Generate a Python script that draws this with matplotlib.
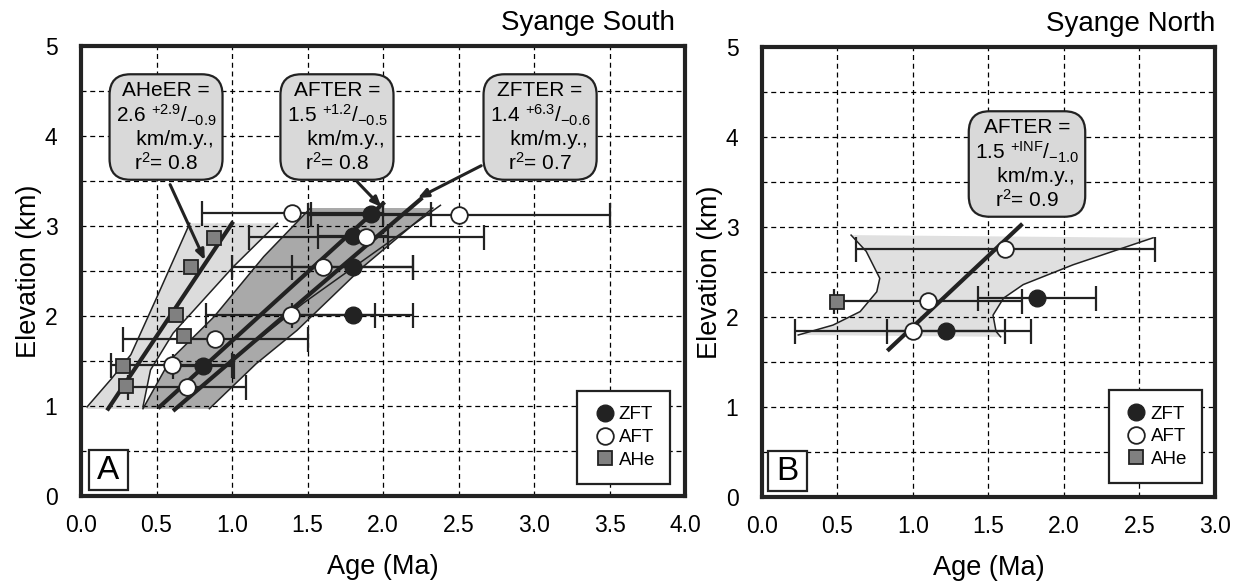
import matplotlib
matplotlib.use("Agg")
from matplotlib import pyplot as plt
from matplotlib.lines import Line2D
from matplotlib.patches import Rectangle
import numpy as np

plt.rcParams['font.family'] = ['Liberation Sans', 'DejaVu Sans']
plt.rcParams['mathtext.fontset'] = 'custom'
plt.rcParams['mathtext.rm'] = 'Liberation Sans'
plt.rcParams['mathtext.it'] = 'Liberation Sans'

# ---- Syange South (A) ----
zft_age = [1.92, 1.80, 1.80, 1.80, 0.81]
zft_elev = [3.13, 2.89, 2.54, 2.01, 1.44]
zft_err = [0.40, 0.23, 0.40, 0.40, 0.20]

aft_age = [1.40, 2.50, 1.89, 1.60, 1.39, 0.89, 0.60, 0.70]
aft_elev = [3.14, 3.12, 2.88, 2.54, 2.01, 1.74, 1.45, 1.21]
aft_err = [0.60, 1.00, 0.78, 0.60, 0.56, 0.61, 0.40, 0.39]

ahe_age = [0.88, 0.73, 0.63, 0.68, 0.28, 0.30]
ahe_elev = [2.87, 2.54, 2.01, 1.78, 1.44, 1.22]

# regression lines (end points)
ahe_fit_age, ahe_fit_elev = [0.18, 1.00], [0.97, 3.03]
aft_fit_age, aft_fit_elev = [0.52, 2.00], [0.99, 3.25]
zft_fit_age, zft_fit_elev = [0.62, 2.25], [0.96, 3.30]

# confidence envelopes
ahe_lo_age = [0.04, 0.20, 0.33, 0.50, 0.72]
ahe_lo_elev = [0.99, 1.30, 1.57, 2.20, 3.03]
ahe_hi_age = [0.41, 0.46, 0.61, 0.81, 1.01, 1.30]
ahe_hi_elev = [0.99, 1.40, 1.81, 2.18, 2.55, 3.03]

fta_lo_age = [0.41, 0.59, 0.88, 1.21, 1.52]
fta_lo_elev = [0.97, 1.51, 1.99, 2.66, 3.20]
fta_hi_age = [0.85, 1.16, 1.43, 1.87, 2.33]
fta_hi_elev = [0.97, 1.47, 1.84, 2.55, 3.20]
fta_mid_age = [1.16, 1.47, 2.38]
fta_mid_elev = [1.72, 2.14, 3.23]

# ---- Syange North (B) ----
n_zft_age = [1.82, 1.22]
n_zft_elev = [2.21, 1.84]
n_zft_err = [0.39, 0.39]
n_aft_age = [1.61, 1.10, 1.00]
n_aft_elev = [2.76, 2.18, 1.84]
n_aft_err = [0.99, 0.62, 0.78]
n_ahe_age = [0.50]
n_ahe_elev = [2.17]
n_fit_age, n_fit_elev = [0.84, 1.715], [1.64, 3.02]
n_left_age = [0.59, 0.69, 0.78, 0.76, 0.65, 0.47, 0.24]
n_left_elev = [2.91, 2.73, 2.43, 2.28, 2.06, 1.91, 1.80]
n_right_age = [1.58, 1.55, 1.53, 1.60, 1.73, 2.06, 2.59]
n_right_elev = [1.78, 1.84, 2.02, 2.21, 2.36, 2.58, 2.88]

DARK = '#222222'
LIGHT = '#dcdcdc'
MID = '#a9a9a9'
BOXC = '#d9d9d9'

fig = plt.figure(figsize=(12.37, 5.84), dpi=100)
axA = fig.add_axes([0.0655, 0.1507, 0.4883, 0.7705])
axB = fig.add_axes([0.616, 0.1490, 0.3662, 0.7705])


def style(ax, xmax):
    ax.set_xlim(0, xmax)
    ax.set_ylim(0, 5)
    xt = np.arange(0, xmax + 0.01, 0.5)
    ax.set_xticks(xt)
    ax.set_xticklabels(['%.1f' % v for v in xt])
    yt = np.arange(0, 5.01, 0.5)
    ax.set_yticks(yt)
    ax.set_yticklabels([str(int(v)) if v == int(v) else '' for v in yt])
    ax.grid(True, color='black', linestyle=(0, (4, 3)), linewidth=0.9)
    ax.set_axisbelow(True)
    ax.tick_params(axis='both', length=0, labelsize=16.5)
    ax.tick_params(axis='x', pad=13)
    ax.tick_params(axis='y', pad=17)
    for s in ax.spines.values():
        s.set_linewidth(3)
        s.set_color(DARK)
    ax.set_xlabel('Age (Ma)', fontsize=19.5, labelpad=12)
    ax.set_ylabel('Elevation (km)', fontsize=19.5, labelpad=2)


def points(ax, za, ze, zerr, aa, ae, aerr, ha, he):
    ax.errorbar(za, ze, xerr=zerr, fmt='none', ecolor=DARK, elinewidth=1.6,
                capsize=9, capthick=1.6, zorder=3)
    ax.errorbar(aa, ae, xerr=aerr, fmt='none', ecolor=DARK, elinewidth=1.6,
                capsize=9, capthick=1.6, zorder=3)
    ax.plot(ha, he, 's', ms=10.5, mfc='#808080', mec=DARK, mew=1.3, zorder=5)
    ax.plot(za, ze, 'o', ms=12, mfc=DARK, mec=DARK, zorder=5)
    ax.plot(aa, ae, 'o', ms=12, mfc='white', mec=DARK, mew=1.3, zorder=6)


def legend(ax, anchor):
    handles = [Line2D([], [], ls='none', marker='o', ms=12, mfc=DARK, mec=DARK),
               Line2D([], [], ls='none', marker='o', ms=12, mfc='white', mec=DARK, mew=1.3),
               Line2D([], [], ls='none', marker='s', ms=10.5, mfc='#808080', mec=DARK, mew=1.3)]
    leg = ax.legend(handles, ['ZFT', 'AFT', 'AHe'], loc='lower right', bbox_to_anchor=anchor,
                    fontsize=13.5, frameon=True, fancybox=False, framealpha=1,
                    handletextpad=0.1, handlelength=1.3, labelspacing=0.3,
                    borderpad=0.8, borderaxespad=0)
    leg.get_frame().set_edgecolor(DARK)
    leg.get_frame().set_linewidth(1.6)


def rate_box(ax, x, y, name, val, up, lo, r2):
    txt = (name + ' =\n' + r'$\mathregular{' + val + r'\ ^{' + up + r'}/_{' + lo + r'}}$'
           + '\n   km/m.y.,\n' + r'$\mathregular{r^2}$= ' + r2)
    ax.text(x, y, txt, ha='center', va='center', fontsize=15, linespacing=1.15,
            multialignment='center', zorder=8,
            bbox=dict(boxstyle='round,pad=0.3,rounding_size=1.0', fc=BOXC, ec=DARK, lw=1.6))


def arrow(ax, tail, head):
    ax.annotate('', xy=head, xytext=tail, zorder=8,
                arrowprops=dict(arrowstyle='-|>,head_length=0.6,head_width=0.25', lw=2.2,
                                color=DARK, shrinkA=0, shrinkB=0))


def panel_tag(ax, letter, w):
    ax.add_patch(Rectangle((0.013, 0.013), w, 0.089, transform=ax.transAxes,
                           fc='white', ec=DARK, lw=1.6, zorder=8))
    ax.text(0.013 + w / 2, 0.013 + 0.0445, letter, transform=ax.transAxes, fontsize=24,
            ha='center', va='center', zorder=9)


# ---- panel A ----
style(axA, 4.0)
axA.fill(np.r_[ahe_lo_age, ahe_hi_age[::-1]], np.r_[ahe_lo_elev, ahe_hi_elev[::-1]],
         color=LIGHT, lw=0, zorder=0.2)
axA.fill_between([0.04, 0.85], 0.97, 1.0, color=LIGHT, lw=0, zorder=0.2)
axA.fill(np.r_[fta_lo_age, fta_hi_age[::-1]], np.r_[fta_lo_elev, fta_hi_elev[::-1]],
         color=MID, lw=0, zorder=0.3)
for xs, ys in [(ahe_lo_age, ahe_lo_elev), (ahe_hi_age, ahe_hi_elev),
               (fta_lo_age, fta_lo_elev), (fta_hi_age, fta_hi_elev), (fta_mid_age, fta_mid_elev)]:
    axA.plot(xs, ys, color=DARK, lw=1.1, zorder=2)
for xs, ys in [(ahe_fit_age, ahe_fit_elev), (aft_fit_age, aft_fit_elev), (zft_fit_age, zft_fit_elev)]:
    axA.plot(xs, ys, color=DARK, lw=3, zorder=2.5)
points(axA, zft_age, zft_elev, zft_err, aft_age, aft_elev, aft_err, ahe_age, ahe_elev)
legend(axA, (0.975, 0.027))
rate_box(axA, 0.563, 4.1, 'AHeER', '2.6', '+2.9', '-0.9', '0.8')
rate_box(axA, 1.695, 4.1, 'AFTER', '1.5', '+1.2', '-0.5', '0.8')
rate_box(axA, 3.04, 4.1, 'ZFTER', '1.4', '+6.3', '-0.6', '0.7')
arrow(axA, (0.59, 3.46), (0.82, 2.62))
arrow(axA, (1.83, 3.49), (1.99, 3.21))
arrow(axA, (2.65, 3.67), (2.23, 3.31))
panel_tag(axA, 'A', 0.0646)
axA.text(0.983, 1.036, 'Syange South', transform=axA.transAxes, fontsize=20,
         ha='right', va='baseline')

# ---- panel B ----
style(axB, 3.0)
axB.fill(np.r_[n_left_age, n_right_age], np.r_[n_left_elev, n_right_elev],
         color='#e0e0e0', lw=0, zorder=0.2)
axB.plot(n_left_age, n_left_elev, color=DARK, lw=1.1, zorder=2)
axB.plot(n_right_age, n_right_elev, color=DARK, lw=1.1, zorder=2)
axB.plot(n_fit_age, n_fit_elev, color=DARK, lw=3, zorder=2.5)
points(axB, n_zft_age, n_zft_elev, n_zft_err, n_aft_age, n_aft_elev, n_aft_err,
       n_ahe_age, n_ahe_elev)
legend(axB, (0.971, 0.031))
rate_box(axB, 1.755, 3.7, 'AFTER', '1.5', '+INF', '-1.0', '0.9')
panel_tag(axB, 'B', 0.086)
axB.text(1.0, 1.036, 'Syange North', transform=axB.transAxes, fontsize=20,
         ha='right', va='baseline')

fig.savefig('out.png', dpi=100)
